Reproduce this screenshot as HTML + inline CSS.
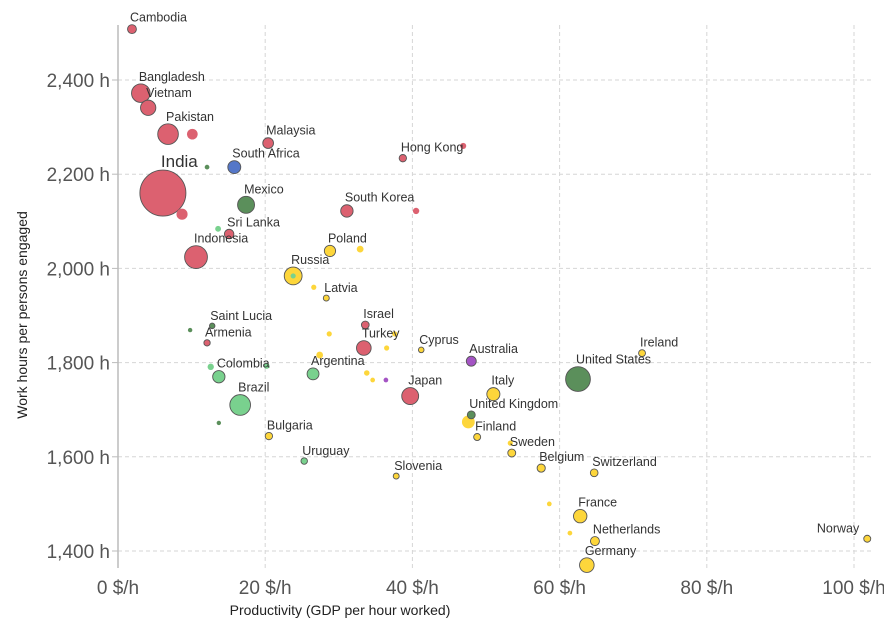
<!DOCTYPE html>
<html><head><meta charset="utf-8"><style>
body{margin:0;background:#fff;font-family:"Liberation Sans",Arial,sans-serif}
svg text{font-family:"Liberation Sans",Arial,sans-serif}
</style></head><body>
<svg id="chart" width="884" height="631" viewBox="0 0 884 631" xmlns="http://www.w3.org/2000/svg">
<g id="grid"></g>
<g id="axes"></g>
<g id="points"></g>
<text transform="translate(27,315) rotate(-90)" text-anchor="middle" font-size="14" fill="#222">Work hours per persons engaged</text>
<text x="340" y="615" text-anchor="middle" font-size="14" fill="#222">Productivity (GDP per hour worked)</text>
</svg>
<script>
const names=["Cambodia","Bangladesh","Vietnam","Pakistan","","Malaysia","Hong Kong","","India","","","South Africa","Mexico","South Korea","","Sri Lanka","","Indonesia","Poland","","Russia","","","Latvia","Saint Lucia","","Armenia","Israel","","","Turkey","","","Cyprus","Australia","","Colombia","Argentina","","","","United States","Japan","Italy","Brazil","","","","United Kingdom","Finland","Bulgaria","","Sweden","Uruguay","Slovenia","Belgium","Switzerland","Ireland","France","","","Netherlands","Germany","Norway"];
const productivity=[1.9,3.1,4.1,6.8,10.1,20.4,38.7,46.9,6.1,8.7,12.1,15.8,17.4,31.1,40.5,15.1,13.6,10.6,28.8,32.9,23.8,23.8,26.6,28.3,12.8,9.8,12.1,33.6,28.7,37.6,33.4,36.5,27.4,41.2,48,12.6,13.7,26.5,20.2,33.8,34.6,62.5,39.7,51,16.6,13.7,36.4,47.6,48,48.8,20.5,53.3,53.5,25.3,37.8,57.5,64.7,71.2,62.8,58.6,61.4,64.8,63.7,101.8];
const hours=[2508,2372,2341,2285,2285,2266,2234,2260,2160,2115,2215,2215,2135,2122,2122,2073,2084,2024,2037,2041,1984,1984,1960,1937,1878,1869,1842,1880,1861,1861,1831,1831,1816,1827,1803,1791,1770,1776,1793,1778,1763,1765,1729,1733,1710,1672,1763,1674,1689,1642,1644,1629,1608,1591,1559,1576,1566,1820,1474,1500,1438,1421,1370,1426];
const population=[16,160,95,210,40,32,7,5,1380,45,1,58,126,51,6,21,4,270,38,8,144,2,2,2,1,0.5,3,9,2,2,84,2,8,1.2,25,6,50,45,4,3,1,330,125,60,212,0.5,1,67,10,5.5,7,2,10,3.5,2,11.5,8.6,5,65,1,1,17,83,5.4];
const groups=["r","r","r","r","r","r","r","r","r","r","g","b","g","r","r","r","l","r","y","y","y","l","y","y","g","g","r","r","y","y","r","y","y","y","p","l","l","l","l","y","y","g","r","y","l","g","p","y","g","y","y","y","y","l","y","y","y","y","y","y","y","y","y","y"];
const xTicks=[0,20,40,60,80,100];
const yTicks=[1400,1600,1800,2000,2200,2400];
const colors={r:"#dc6170",g:"#5b8f5b",l:"#79d18e",y:"#fdd63b",b:"#5577c8",p:"#a454c4"};
const X=v=>118+v*7.36, Y=v=>80+(2400-v)*0.471;
const NS="http://www.w3.org/2000/svg";
function mk(t,a,p){const e=document.createElementNS(NS,t);for(const k in a)e.setAttribute(k,a[k]);p.appendChild(e);return e;}
const grid=document.getElementById('grid'),axes=document.getElementById('axes'),pts=document.getElementById('points');
xTicks.forEach(t=>{if(t>0){const l=mk('line',{x1:X(t),x2:X(t),y1:25,y2:568,stroke:'#d6d6d6','stroke-dasharray':'4,3'},grid);

}
const tx=mk('text',{x:X(t),y:594,'text-anchor':'middle','font-size':19,fill:'#555'},axes);tx.textContent=t+' $/h';

});
yTicks.forEach(t=>{const l=mk('line',{x1:118,x2:872,y1:Y(t),y2:Y(t),stroke:'#d6d6d6','stroke-dasharray':'4,3'},grid);


const tk=mk('line',{x1:112,x2:118,y1:Y(t),y2:Y(t),stroke:'#bbb'},axes);


const tx=mk('text',{x:110,y:Y(t)+7,'text-anchor':'end','font-size':19,fill:'#555'},axes);tx.textContent=t.toLocaleString('en-US')+' h';

});
const ax=mk('line',{x1:118,x2:118,y1:25,y2:568,stroke:'#bbb','stroke-width':1.5},axes);


const rad=i=>(names[i]?2.2:1.8)+Math.sqrt(population[i])*0.56;
const order=productivity.map((_,i)=>i).sort((a,b)=>population[b]-population[a]);
order.forEach(i=>{const r=rad(i);
const c=mk('circle',{cx:X(productivity[i]),cy:Y(hours[i]),r:r,fill:colors[groups[i]],stroke:names[i]?'#555':'none','stroke-width':0.9},pts);

});
const right={"Norway":1};
names.forEach((n,i)=>{if(!n)return;const r=rad(i);
const big=n==="India";
const t=mk('text',{x:X(productivity[i])+(right[n]?-8:-2),y:Y(hours[i])-r-3,'text-anchor':right[n]?'end':'start','font-size':big?17:12.5,fill:'#333'},pts);
t.textContent=n;

});
</script>
</body></html>
